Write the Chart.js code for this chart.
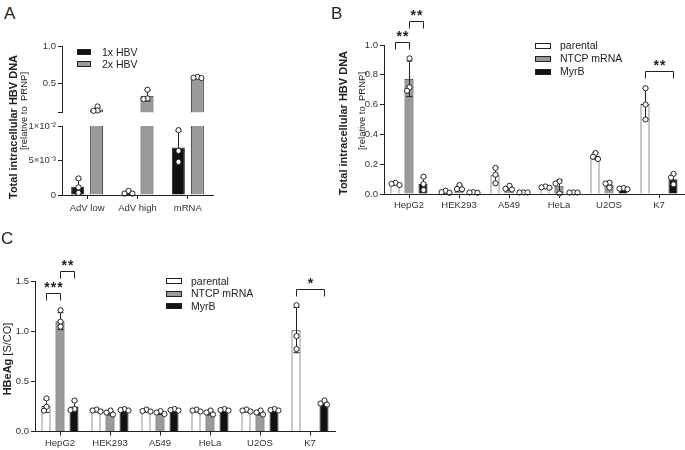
<!DOCTYPE html>
<html lang="en">
<head>
<meta charset="UTF-8">
<title>HBV DNA and HBeAg in cell lines</title>
<script src="https://cdn.jsdelivr.net/npm/chart.js"></script>
<style>
  body { margin: 0; background: #fff; }
  #fig { position: relative; width: 685px; height: 450px; overflow: hidden;
         font-family: "Liberation Sans", Arial, sans-serif; color: #222; }
  #fig canvas { position: absolute; }
  .panel { position: absolute; font-size: 17px; line-height: 17px; }
  .ytitle { position: absolute; white-space: nowrap; font-size: 11px; line-height: 11px;
            transform: translate(-50%, -50%) rotate(-90deg); }
  .ytitle.sub { font-size: 9.5px; line-height: 10px; }
  .legend { position: absolute; font-size: 10.5px; }
  .legend div { position: relative; padding-left: 25px; white-space: nowrap; }
  .legend i { position: absolute; left: 0; top: 50%; margin-top: -3px; height: 4px;
              border: 1px solid #222; }
</style>
</head>
<body>
<div id="fig">
  <canvas id="chartAtop" width="230" height="90" style="left:0;top:30px"></canvas>
  <canvas id="chartAbot" width="230" height="100" style="left:0;top:118px"></canvas>
  <canvas id="chartB" width="355" height="215" style="left:330px;top:0"></canvas>
  <canvas id="chartC" width="345" height="225" style="left:0;top:225px"></canvas>

  <div class="panel" style="left:4px;top:5px">A</div>
  <div class="panel" style="left:331px;top:4.5px">B</div>
  <div class="panel" style="left:1px;top:230px">C</div>

  <div class="ytitle" style="left:13px;top:127px"><b>Total intracellular HBV DNA</b></div>
  <div class="ytitle sub" style="left:24px;top:111px">[relative to&nbsp; PRNP]</div>
  <div class="ytitle" style="left:343px;top:123px"><b>Total intracellular HBV DNA</b></div>
  <div class="ytitle sub" style="left:362px;top:111px">[relative to&nbsp; PRNP]</div>
  <div class="ytitle" style="left:7px;top:359px"><b>HBeAg</b> [S/CO]</div>

  <div class="legend" style="left:77px;top:46px;line-height:12px">
    <div><i style="width:12px;background:#111"></i>1x HBV</div>
    <div><i style="width:12px;background:#9a9a9a"></i>2x HBV</div>
  </div>
  <div class="legend" style="left:535px;top:39px;line-height:13px">
    <div><i style="width:14px;background:#fff"></i>parental</div>
    <div><i style="width:14px;background:#9a9a9a"></i>NTCP mRNA</div>
    <div><i style="width:14px;background:#111"></i>MyrB</div>
  </div>
  <div class="legend" style="left:166px;top:275px;line-height:12.4px">
    <div><i style="width:14px;background:#fff"></i>parental</div>
    <div><i style="width:14px;background:#9a9a9a"></i>NTCP mRNA</div>
    <div><i style="width:14px;background:#111"></i>MyrB</div>
  </div>
</div>

<script>
  // Panel A: HBV DNA after 1x / 2x HBV, broken y axis
  const vectorLabels = ['AdV low', 'AdV high', 'mRNA'];
  const hbv1x = [0.0012, 0.0003, 0.0069];
  const hbv1xPts = [[0.0024, 0.0011, 0.0003], [0.0006, 0.0002, 0.0002], [0.0094, 0.0064, 0.0048]];
  const hbv2x = [0.14, 0.327, 0.577];
  const hbv2xPts = [[0.18, 0.125, 0.12], [0.41, 0.29, 0.28], [0.585, 0.575, 0.57]];
  const aTopTicks = [0.1, 0.5, 1.0];
  const aTopTickLabels = ['', '0.5', '1.0'];
  const aBotTicks = [0, 0.005, 0.01];
  const aBotTickLabels = ['0', '5×10⁻³', '1×10⁻²'];

  // Panels B and C: cell lines
  const cellLines = ['HepG2', 'HEK293', 'A549', 'HeLa', 'U2OS', 'K7'];

  const dnaParental = [0.067, 0.015, 0.126, 0.047, 0.255, 0.604];
  const dnaParentalPts = [[0.075, 0.068, 0.06], [0.022, 0.012, 0.008], [0.175, 0.13, 0.072],
                          [0.05, 0.045, 0.042], [0.275, 0.25, 0.235], [0.71, 0.6, 0.5]];
  const dnaNtcp = [0.773, 0.042, 0.04, 0.052, 0.063, null];
  const dnaNtcpPts = [[0.91, 0.716, 0.693], [0.06, 0.034, 0.032], [0.055, 0.035, 0.03],
                      [0.085, 0.07, 0.003], [0.076, 0.07, 0.043], null];
  const dnaMyrb = [0.067, 0.01, 0.01, 0.01, 0.036, 0.099];
  const dnaMyrbPts = [[0.116, 0.067, 0.027], [0.012, 0.01, 0.008], [0.011, 0.01, 0.01],
                      [0.011, 0.01, 0.01], [0.04, 0.036, 0.032], [0.135, 0.11, 0.065]];
  const dnaTicks = [0, 0.2, 0.4, 0.6, 0.8, 1.0];
  const dnaTickLabels = ['0.0', '0.2', '0.4', '0.6', '0.8', '1.0'];
  const dnaSig = [
    { from: 0, to: 1, cat: 0, y: 1.02, stars: '**' },
    { from: 1, to: 2, cat: 0, y: 1.163, stars: '**' },
    { from: 0, to: 2, cat: 5, y: 0.825, stars: '**' }
  ];

  const heParental = [0.255, 0.205, 0.205, 0.205, 0.205, 1.015];
  const heParentalPts = [[0.332, 0.248, 0.208], [0.22, 0.21, 0.2], [0.22, 0.205, 0.2],
                         [0.22, 0.21, 0.2], [0.22, 0.21, 0.2], [1.265, 0.955, 0.825]];
  const heNtcp = [1.105, 0.185, 0.185, 0.185, 0.185, null];
  const heNtcpPts = [[1.215, 1.1, 1.05], [0.21, 0.19, 0.17], [0.205, 0.19, 0.175],
                     [0.21, 0.19, 0.17], [0.21, 0.19, 0.17], null];
  const heMyrb = [0.25, 0.215, 0.215, 0.215, 0.215, 0.275];
  const heMyrbPts = [[0.31, 0.225, 0.215], [0.225, 0.215, 0.21], [0.225, 0.215, 0.21],
                     [0.225, 0.215, 0.21], [0.225, 0.215, 0.21], [0.31, 0.28, 0.27]];
  const heTicks = [0, 0.5, 1.0, 1.5];
  const heTickLabels = ['0.0', '0.5', '1.0', '1.5'];
  const heSig = [
    { from: 0, to: 1, cat: 0, y: 1.382, stars: '***' },
    { from: 1, to: 2, cat: 0, y: 1.608, stars: '**' },
    { from: 0, to: 2, cat: 5, y: 1.422, stars: '*' }
  ];

  const ink = '#222';
  const white = '#ffffff', grey = '#9a9a9a', black = '#111111';
  const fontFamily = '"Liberation Sans", Arial, sans-serif';
  Chart.defaults.font.family = fontFamily;
  Chart.defaults.color = '#333';

  // error bars (mean ± SD of the replicates), replicate dots and significance brackets
  const marks = {
    id: 'marks',
    afterDatasetsDraw(chart, args, opts) {
      const ctx = chart.ctx, ys = chart.scales.y;
      ctx.save();
      ctx.strokeStyle = ink;
      ctx.lineWidth = 1;
      (opts.reps || []).forEach((reps, di) => {
        if (!reps) return;
        const bars = chart.getDatasetMeta(di).data;
        reps.forEach((pts, i) => {
          const mean = chart.data.datasets[di].data[i];
          if (!pts || mean == null || mean < ys.min || mean > ys.max) return;
          const x = Math.round(bars[i].x) + 0.5;
          const n = pts.length;
          const avg = pts.reduce((a, b) => a + b, 0) / n;
          const sd = Math.sqrt(pts.reduce((a, b) => a + (b - avg) ** 2, 0) / (n - 1));
          const hiV = mean + sd, loV = mean - sd;
          const top = ys.getPixelForValue(Math.min(hiV, ys.max));
          const bot = ys.getPixelForValue(Math.max(loV, ys.min));
          ctx.beginPath();
          ctx.moveTo(x, top); ctx.lineTo(x, bot);
          if (hiV <= ys.max) { ctx.moveTo(x - 3, top); ctx.lineTo(x + 3, top); }
          if (loV >= ys.min) { ctx.moveTo(x - 3, bot); ctx.lineTo(x + 3, bot); }
          ctx.stroke();

          const placed = [];
          pts.forEach(v => {
            if (v < ys.min || v > ys.max) return;
            const py = ys.getPixelForValue(v);
            const dx = [0, -2.5, 2.5, -4, 4].find(c =>
              placed.every(p => Math.hypot(p.x - c, p.y - py) >= 4)) ?? 0;
            placed.push({ x: dx, y: py });
          });
          placed.forEach(p => {
            ctx.beginPath();
            ctx.arc(x + p.x, p.y, 2.6, 0, Math.PI * 2);
            ctx.fillStyle = '#fff';
            ctx.fill();
            ctx.stroke();
          });
        });
      });

      ctx.font = 'bold 14px ' + fontFamily;
      ctx.textAlign = 'center';
      ctx.textBaseline = 'alphabetic';
      ctx.fillStyle = ink;
      (opts.sig || []).forEach(s => {
        const x1 = Math.round(chart.getDatasetMeta(s.from).data[s.cat].x) + 0.5;
        const x2 = Math.round(chart.getDatasetMeta(s.to).data[s.cat].x) + 0.5;
        const y = Math.round(ys.getPixelForValue(s.y)) + 0.5;
        ctx.beginPath();
        ctx.moveTo(x1, y + 7); ctx.lineTo(x1, y); ctx.lineTo(x2, y); ctx.lineTo(x2, y + 7);
        ctx.stroke();
        const n = s.stars.length;
        for (let k = 0; k < n; k++) {
          ctx.fillText('*', (x1 + x2) / 2 + (k - (n - 1) / 2) * 6.5, y - 9.5 + 8);
        }
      });
      ctx.restore();
    }
  };

  function makeChart(id, o) {
    return new Chart(document.getElementById(id), {
      type: 'bar',
      data: {
        labels: o.labels,
        datasets: o.sets.map(s => ({
          data: s.data,
          backgroundColor: s.color,
          borderColor: ink,
          borderWidth: 1,
          categoryPercentage: o.catPct,
          barPercentage: o.barPct,
          clip: 0
        }))
      },
      options: {
        responsive: false,
        animation: false,
        layout: { padding: o.pad },
        plugins: {
          legend: { display: false },
          tooltip: { enabled: false },
          marks: { reps: o.sets.map(s => s.pts), sig: o.sig || [] }
        },
        scales: {
          x: {
            display: o.showX,
            grid: { offset: false, drawOnChartArea: false, tickLength: 4, color: ink },
            border: { color: ink, z: 1 },
            ticks: { font: { size: 9.5 }, padding: o.xPad, maxRotation: 0, color: '#333' },
            afterFit: s => { s.height = o.xHeight; }
          },
          y: {
            min: o.ticks[0],
            max: o.ticks[o.ticks.length - 1],
            afterBuildTicks: s => { s.ticks = o.ticks.map(v => ({ value: v })); },
            afterFit: s => { s.width = o.yWidth; },
            grid: { drawOnChartArea: false, tickLength: 4, color: ink },
            border: { color: ink, z: 1 },
            ticks: { font: { size: 9.5 }, padding: 2, color: '#333',
                     callback: (v, i) => o.tickLabels[i] }
          }
        }
      },
      plugins: [marks]
    });
  }

  const aSets = [
    { data: hbv1x, pts: hbv1xPts, color: black },
    { data: hbv2x, pts: hbv2xPts, color: grey }
  ];
  makeChart('chartAtop', {
    labels: vectorLabels, sets: aSets, ticks: aTopTicks, tickLabels: aTopTickLabels,
    pad: { top: 16.7, right: 17, left: 0, bottom: 5.6 }, yWidth: 62, showX: false,
    xHeight: 0, xPad: 4, catPct: 0.755, barPct: 0.684
  });
  makeChart('chartAbot', {
    labels: vectorLabels, sets: aSets, ticks: aBotTicks, tickLabels: aBotTickLabels,
    pad: { top: 8, right: 17, left: 0, bottom: 0 }, yWidth: 62, showX: true,
    xHeight: 23, xPad: 4, catPct: 0.755, barPct: 0.684
  });

  makeChart('chartB', {
    labels: cellLines,
    sets: [
      { data: dnaParental, pts: dnaParentalPts, color: white },
      { data: dnaNtcp, pts: dnaNtcpPts, color: grey },
      { data: dnaMyrb, pts: dnaMyrbPts, color: black }
    ],
    ticks: dnaTicks, tickLabels: dnaTickLabels, sig: dnaSig,
    pad: { top: 45, right: 1, left: 0, bottom: 0 }, yWidth: 54, showX: true,
    xHeight: 21, xPad: 2, catPct: 0.84, barPct: 0.643
  });

  makeChart('chartC', {
    labels: cellLines,
    sets: [
      { data: heParental, pts: heParentalPts, color: white },
      { data: heNtcp, pts: heNtcpPts, color: grey },
      { data: heMyrb, pts: heMyrbPts, color: black }
    ],
    ticks: heTicks, tickLabels: heTickLabels, sig: heSig,
    pad: { top: 56.7, right: 10, left: 0, bottom: 0 }, yWidth: 35, showX: true,
    xHeight: 18.5, xPad: 2, catPct: 0.84, barPct: 0.643
  });
</script>
</body>
</html>
